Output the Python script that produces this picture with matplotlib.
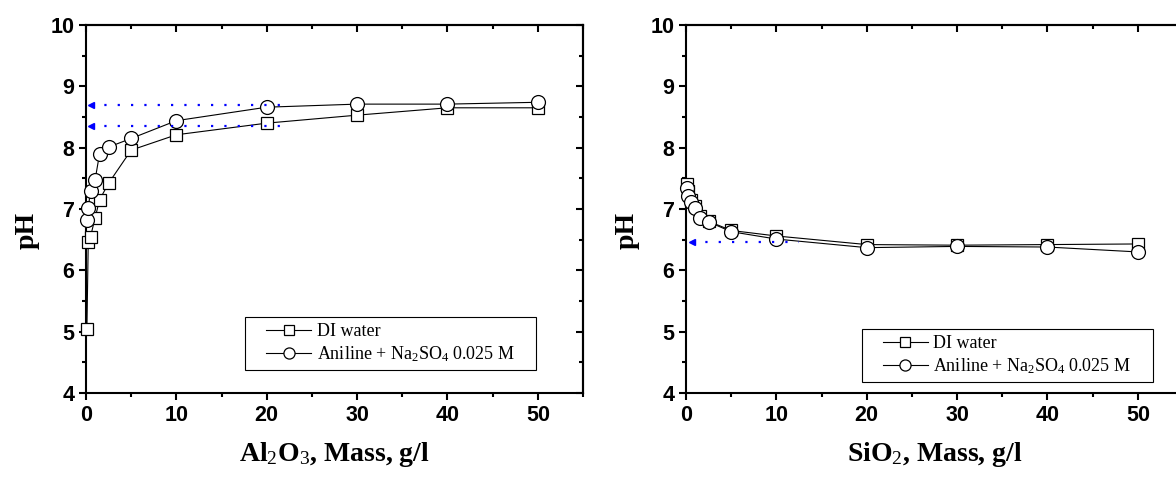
import matplotlib
matplotlib.use('Agg')
import matplotlib.pyplot as plt
from matplotlib.patches import Rectangle
from matplotlib.ticker import MultipleLocator

plt.rcParams['font.family'] = 'Liberation Sans'
plt.rcParams['mathtext.fontset'] = 'custom'
plt.rcParams['mathtext.rm'] = 'Liberation Serif:weight=normal'
plt.rcParams['mathtext.it'] = 'Liberation Serif:italic'
plt.rcParams['mathtext.bf'] = 'Liberation Serif:bold'

# adsorbent mass, g/l
mass = [0.1, 0.25, 0.5, 1.0, 1.5, 2.5, 5, 10, 20, 30, 40, 50]

# Al2O3 panel
al_di = [5.05, 6.47, 6.55, 6.85, 7.15, 7.42, 7.96, 8.21, 8.40, 8.53, 8.65, 8.65]
al_aniline = [6.82, 7.02, 7.30, 7.47, 7.90, 8.01, 8.15, 8.44, 8.66, 8.71, 8.71, 8.74]

# SiO2 panel
si_di = [7.40, 7.30, 7.15, 7.05, 6.88, 6.80, 6.65, 6.56, 6.42, 6.41, 6.42, 6.43]
si_aniline = [7.35, 7.22, 7.12, 7.01, 6.86, 6.79, 6.63, 6.51, 6.37, 6.39, 6.38, 6.30]

# blue dotted guide arrows (pH level, x from / to)
al_arrow_ph = [8.70, 8.35]
al_arrow_x = [0.6, 22.5]
si_arrow_ph = [6.46]
si_arrow_x = [0.7, 12.5]

labels = ['DI water', r'Aniline + Na$_2$SO$_4$ 0.025 M']

W, H = 1176, 478
fig = plt.figure(figsize=(W / 100, H / 100), dpi=100)
ax1 = fig.add_axes([86 / W, 85 / H, 497 / W, 368 / H])
ax2 = fig.add_axes([686 / W, 85 / H, 497 / W, 368 / H])


def draw(ax, di, an, arrow_ph, arrow_x, xlabel, anchor):
    l1, = ax.plot(mass, di, color='black', lw=0.8, marker='s', ms=9,
                  mfc='white', mec='black', mew=0.9, clip_on=False, zorder=3)
    l2, = ax.plot(mass, an, color='black', lw=0.8, marker='o', ms=10,
                  mfc='white', mec='black', mew=0.9, clip_on=False, zorder=4)
    for y in arrow_ph:
        ax.plot(arrow_x, [y, y], color='blue', lw=1.6, ls=(0, (1, 5)), zorder=6)
        ax.plot(arrow_x[0], y, marker='<', color='blue', ms=5, zorder=6)

    ax.set_xlim(0, 55)
    ax.set_ylim(4, 10)
    ax.xaxis.set_major_locator(MultipleLocator(10))
    ax.xaxis.set_minor_locator(MultipleLocator(5))
    ax.yaxis.set_major_locator(MultipleLocator(1))
    ax.yaxis.set_minor_locator(MultipleLocator(0.5))
    ax.tick_params(which='both', direction='out', width=1.5, labelsize=15.5)
    ax.tick_params(which='major', length=5)
    ax.tick_params(which='minor', length=3)
    plt.setp(ax.get_xticklabels() + ax.get_yticklabels(), fontweight='bold')
    for s in ax.spines.values():
        s.set_linewidth(1.5)

    top = ax.secondary_xaxis('top')
    top.xaxis.set_major_locator(MultipleLocator(10))
    top.xaxis.set_minor_locator(MultipleLocator(5))
    top.tick_params(which='both', direction='in', width=1.5, labeltop=False)
    top.tick_params(which='major', length=5)
    top.tick_params(which='minor', length=3)
    right = ax.secondary_yaxis('right')
    right.yaxis.set_major_locator(MultipleLocator(1))
    right.yaxis.set_minor_locator(MultipleLocator(0.5))
    right.tick_params(which='both', direction='in', width=1.5, labelright=False)
    right.tick_params(which='major', length=5)
    right.tick_params(which='minor', length=3)
    for s in list(top.spines.values()) + list(right.spines.values()):
        s.set_linewidth(1.5)

    ax.set_xlabel(xlabel, family='Liberation Serif', fontweight='bold',
                  fontsize=20, labelpad=10)
    ax.set_ylabel('pH', family='Liberation Serif', fontweight='bold',
                  fontsize=20)
    ax.yaxis.set_label_coords(-0.094, 0.443)

    leg = ax.legend([l1, l2], labels, loc='lower right', bbox_to_anchor=anchor,
                    borderaxespad=0, frameon=False,
                    prop=dict(family='Liberation Serif', size=13),
                    handlelength=2.5, handletextpad=0.3, markerscale=0.8,
                    labelspacing=0.2, borderpad=0.35)
    return leg


leg1 = draw(ax1, al_di, al_aniline, al_arrow_ph, al_arrow_x,
            r'Al$_2$O$_3$, Mass, g/l', (0.875, 0.0625))
leg2 = draw(ax2, si_di, si_aniline, si_arrow_ph, si_arrow_x,
            r'SiO$_2$, Mass, g/l', (0.909, 0.03))

# Origin-style legend frame: wider side margins than matplotlib's borderpad
fig.canvas.draw()
for leg in (leg1, leg2):
    bb = leg.get_window_extent()
    pad = 15
    fig.add_artist(Rectangle((bb.x0 - pad, bb.y0), bb.width + 2 * pad, bb.height,
                             transform=None, fill=False, edgecolor='black',
                             lw=0.8, zorder=7))

plt.savefig('out.png', dpi=100)
